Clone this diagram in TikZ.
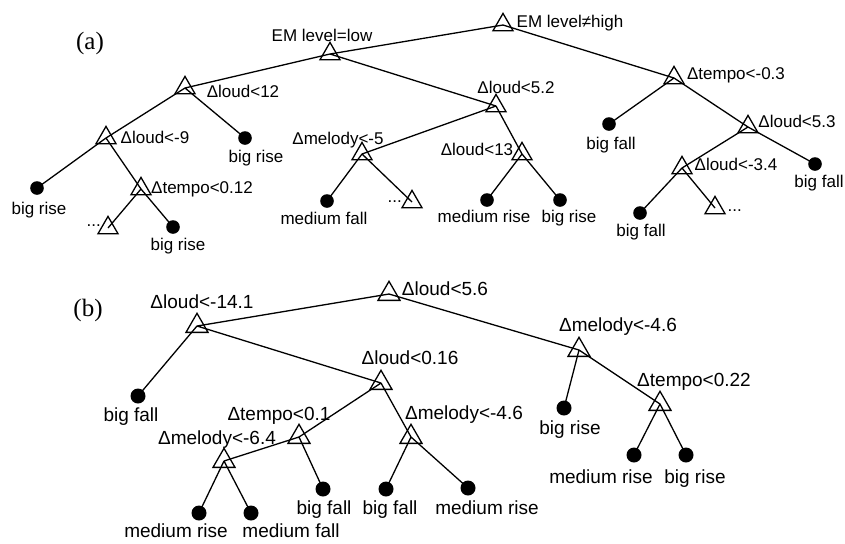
\documentclass[tikz,border=0pt]{standalone}
\usepackage{fontspec}
\setmainfont{Liberation Sans}
\newfontfamily\tagfont{Liberation Serif}
\usetikzlibrary{shapes.geometric}
\begin{document}
\begin{tikzpicture}[x=0.5pt, y=-0.5pt, line width=0.65pt,
          split/.style={regular polygon, regular polygon sides=3, draw, inner sep=0pt, outer sep=0pt, minimum size=11.6pt},
          leaf/.style={circle, fill=black, inner sep=0pt, minimum size=6.8pt},
          lbl/.style={inner sep=0pt, text height=6pt, text depth=0pt},
          more/.style={inner sep=0pt, anchor=base west},
          tag/.style={font=\tagfont\fontsize{12.5}{14}\selectfont},
          treea/.style={font=\fontsize{8.5}{10}\selectfont},
          treeb/.style={font=\fontsize{9.5}{11}\selectfont,
            split/.append style={minimum size=12.7pt},
            leaf/.append style={minimum size=7.5pt},
            lbl/.append style={text height=6.8pt}}]
        \useasboundingbox (0,0) rectangle (845,543);
        \node[tag] (taga) at (90,43) {(a)};
        \node[tag] (tagb) at (88,310) {(b)};
        \begin{scope}[treea]
        \node[split] (a0) at (503,25) {};
        \node[lbl] (a0t) at (570,21) {EM level≠high};
        \node[split] (a1) at (330,54) {};
        \node[lbl] (a1t) at (322,35) {EM level=low};
        \node[split] (a2) at (674,78) {};
        \node[lbl] (a2t) at (736,73) {Δtempo<-0.3};
        \node[split] (a3) at (185,88) {};
        \node[lbl] (a3t) at (243,91) {Δloud<12};
        \node[split] (a4) at (496,106) {};
        \node[lbl] (a4t) at (516,87) {Δloud<5.2};
        \node[split] (a5) at (106,138) {};
        \node[lbl] (a5t) at (155,137) {Δloud<-9};
        \node[leaf] (a6) at (245,138) {};
        \node[lbl] (a6t) at (256,156) {big rise};
        \node[leaf] (a7) at (37,188) {};
        \node[lbl] (a7t) at (39,208) {big rise};
        \node[split] (a8) at (141,189) {};
        \node[lbl] (a8t) at (202,187) {Δtempo<0.12};
        \node[split] (a9) at (108,228) {};
        \node[more] (a9t) at (86,226) {...};
        \node[leaf] (a10) at (173,227) {};
        \node[lbl] (a10t) at (178,244) {big rise};
        \node[split] (a11) at (362,154) {};
        \node[lbl] (a11t) at (338,138) {Δmelody<-5};
        \node[leaf] (a12) at (327,201) {};
        \node[lbl] (a12t) at (324,218) {medium fall};
        \node[split] (a13) at (412,202) {};
        \node[more] (a13t) at (387,202) {...};
        \node[split] (a14) at (522,154) {};
        \node[lbl] (a14t) at (477,149) {Δloud<13};
        \node[leaf] (a15) at (487,200) {};
        \node[lbl] (a15t) at (484,216) {medium rise};
        \node[leaf] (a16) at (560,200) {};
        \node[lbl] (a16t) at (569,216) {big rise};
        \node[leaf] (a17) at (609,124) {};
        \node[lbl] (a17t) at (611,143) {big fall};
        \node[split] (a18) at (748,127) {};
        \node[lbl] (a18t) at (797,121) {Δloud<5.3};
        \node[leaf] (a19) at (815,164) {};
        \node[lbl] (a19t) at (819,181) {big fall};
        \node[split] (a20) at (682,168) {};
        \node[lbl] (a20t) at (736,164) {Δloud<-3.4};
        \node[leaf] (a21) at (640,213) {};
        \node[lbl] (a21t) at (641,230) {big fall};
        \node[split] (a22) at (715,208) {};
        \node[more] (a22t) at (727,211) {...};
        \draw (a0.center) -- (a1.center) (a0.center) -- (a2.center)
              (a1.center) -- (a3.center) (a1.center) -- (a4.center)
              (a3.center) -- (a5.center) (a3.center) -- (a6.center)
              (a5.center) -- (a7.center) (a5.center) -- (a8.center)
              (a8.center) -- (a9.center) (a8.center) -- (a10.center)
              (a4.center) -- (a11.center) (a4.center) -- (a14.center)
              (a11.center) -- (a12.center) (a11.center) -- (a13.center)
              (a14.center) -- (a15.center) (a14.center) -- (a16.center)
              (a2.center) -- (a17.center) (a2.center) -- (a18.center)
              (a18.center) -- (a20.center) (a18.center) -- (a19.center)
              (a20.center) -- (a21.center) (a20.center) -- (a22.center);
        \end{scope}
        \begin{scope}[treeb]
        \node[split] (b0) at (389,294) {};
        \node[lbl] (b0t) at (445,289) {Δloud<5.6};
        \node[split] (b1) at (197,326) {};
        \node[lbl] (b1t) at (202,302) {Δloud<-14.1};
        \node[leaf] (b2) at (138,396) {};
        \node[lbl] (b2t) at (131,415) {big fall};
        \node[split] (b3) at (381,383) {};
        \node[lbl] (b3t) at (410,358) {Δloud<0.16};
        \node[split] (b4) at (579,350) {};
        \node[lbl] (b4t) at (618,325) {Δmelody<-4.6};
        \node[leaf] (b5) at (564,408) {};
        \node[lbl] (b5t) at (570,428) {big rise};
        \node[split] (b6) at (660,404) {};
        \node[lbl] (b6t) at (694,380) {Δtempo<0.22};
        \node[leaf] (b7) at (634,455) {};
        \node[lbl] (b7t) at (601,477) {medium rise};
        \node[leaf] (b8) at (686,455) {};
        \node[lbl] (b8t) at (695,477) {big rise};
        \node[split] (b9) at (299,437) {};
        \node[lbl] (b9t) at (279,414) {Δtempo<0.1};
        \node[split] (b10) at (224,461) {};
        \node[lbl] (b10t) at (217,438) {Δmelody<-6.4};
        \node[leaf] (b11) at (199,513) {};
        \node[lbl] (b11t) at (176,531) {medium rise};
        \node[leaf] (b12) at (251,513) {};
        \node[lbl] (b12t) at (291,531) {medium fall};
        \node[leaf] (b13) at (323,489) {};
        \node[lbl] (b13t) at (324,508) {big fall};
        \node[split] (b14) at (411,437) {};
        \node[lbl] (b14t) at (464,413) {Δmelody<-4.6};
        \node[leaf] (b15) at (386,489) {};
        \node[lbl] (b15t) at (390,508) {big fall};
        \node[leaf] (b16) at (468,488) {};
        \node[lbl] (b16t) at (487,508) {medium rise};
        \draw (b0.center) -- (b1.center) (b0.center) -- (b4.center)
              (b1.center) -- (b2.center) (b1.center) -- (b3.center)
              (b3.center) -- (b9.center) (b3.center) -- (b14.center)
              (b9.center) -- (b10.center) (b9.center) -- (b13.center)
              (b10.center) -- (b11.center) (b10.center) -- (b12.center)
              (b14.center) -- (b15.center) (b14.center) -- (b16.center)
              (b4.center) -- (b5.center) (b4.center) -- (b6.center)
              (b6.center) -- (b7.center) (b6.center) -- (b8.center);
        \end{scope}
      \end{tikzpicture}
\end{document}
